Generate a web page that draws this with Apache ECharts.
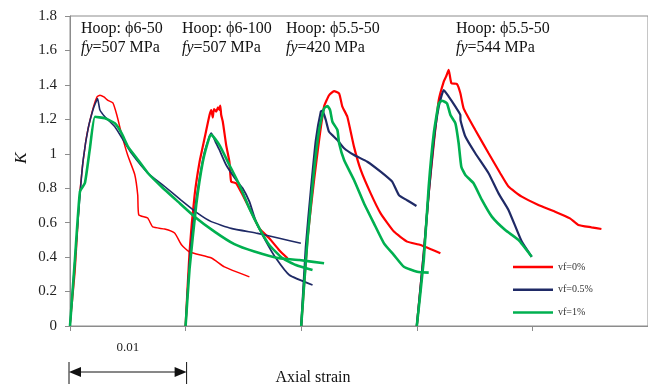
<!DOCTYPE html>
<html>
<head>
<meta charset="utf-8">
<script src="https://cdn.jsdelivr.net/npm/echarts@6/dist/echarts.min.js"></script>
<style>
  html, body { margin: 0; padding: 0; background: #ffffff; }
  #chart { width: 648px; height: 387px; }
</style>
</head>
<body>
<div id="chart"></div>
<script>
// Axial strain of each specimen is plotted from its own origin; groups are shifted by 0.01.
const groupOffsets = [0, 0.01, 0.02, 0.03];
const hoopLabels = ['Hoop: ϕ6-50', 'Hoop: ϕ6-100', 'Hoop: ϕ5.5-50', 'Hoop: ϕ5.5-50'];
const fyValues = ['507', '507', '420', '544'];
const seriesNames = ['vf=0%', 'vf=0.5%', 'vf=1%'];
const scaleBarStrain = 0.01;

// [axial strain from group origin, K]
const vf0_g1 = [[0,0],[0.00043,0.31],[0.00086,0.78],[0.00138,1.08],[0.0019,1.24],[0.00233,1.33],[0.00259,1.34],[0.00293,1.33],[0.00328,1.31],[0.00371,1.295],[0.00405,1.225],[0.00448,1.11],[0.005,0.99],[0.0056,0.88],[0.00586,0.76],[0.00595,0.645],[0.00672,0.627],[0.00716,0.575],[0.00819,0.563],[0.00905,0.54],[0.00966,0.47],[0.01034,0.43],[0.01224,0.395],[0.01336,0.343],[0.01552,0.285]];
const vf05_g1 = [[0,0],[0.00043,0.39],[0.00086,0.76],[0.00115,0.97],[0.00158,1.15],[0.00201,1.26],[0.0023,1.31],[0.00239,1.32],[0.00259,1.254],[0.00302,1.215],[0.00388,1.157],[0.0046,1.08],[0.00532,1.003],[0.00675,0.887],[0.00819,0.81],[0.00963,0.73],[0.01106,0.654],[0.01222,0.606],[0.01394,0.567],[0.01623,0.538],[0.0181,0.51],[0.01997,0.48]];
const vf1_g1 = [[0,0],[0.00043,0.39],[0.00086,0.78],[0.00129,0.83],[0.00172,1.03],[0.00216,1.215],[0.00302,1.206],[0.00388,1.177],[0.00446,1.12],[0.00503,1.04],[0.00589,0.964],[0.00675,0.887],[0.0079,0.81],[0.00934,0.722],[0.01078,0.635],[0.0125,0.548],[0.01422,0.475],[0.01595,0.432],[0.0181,0.393],[0.01983,0.383],[0.02198,0.364]];

const vf0_g2 = [[0,0],[0.00034,0.43],[0.00078,0.76],[0.00121,0.954],[0.00164,1.09],[0.00207,1.225],[0.00222,1.254],[0.00235,1.21],[0.00245,1.26],[0.00265,1.245],[0.0028,1.27],[0.00293,1.255],[0.003,1.28],[0.00308,1.225],[0.00322,1.186],[0.00351,1.05],[0.00379,0.954],[0.00394,0.838],[0.00437,0.829],[0.00494,0.76],[0.00552,0.683],[0.00638,0.567],[0.00724,0.509],[0.0081,0.44],[0.00882,0.393]];
const vf05_g2 = [[0,0],[0.00034,0.373],[0.00078,0.664],[0.00121,0.858],[0.00164,1.01],[0.00207,1.1],[0.00222,1.12],[0.00265,1.06],[0.00293,1.022],[0.00351,0.935],[0.00437,0.848],[0.00494,0.8],[0.00552,0.722],[0.00609,0.606],[0.00696,0.49],[0.00782,0.393],[0.00897,0.296],[0.01098,0.238]];
const vf1_g2 = [[0,0],[0.00034,0.33],[0.00092,0.703],[0.00149,0.954],[0.00207,1.1],[0.00222,1.11],[0.00293,1.05],[0.00379,0.935],[0.00466,0.819],[0.00552,0.683],[0.00638,0.567],[0.00724,0.47],[0.00839,0.393],[0.00954,0.354],[0.01098,0.325]];

const vf0_g3 = [[0,0],[0.00054,0.5],[0.00112,0.85],[0.00155,1.08],[0.00198,1.274],[0.00241,1.34],[0.00284,1.364],[0.00328,1.35],[0.00356,1.274],[0.00399,1.215],[0.00457,1.04],[0.00515,0.906],[0.00601,0.77],[0.00687,0.654],[0.00802,0.548],[0.00916,0.49],[0.01032,0.47],[0.01204,0.422]];
const vf05_g3 = [[0,0],[0.0004,0.46],[0.00084,0.79],[0.00127,1.08],[0.0017,1.245],[0.00184,1.25],[0.00213,1.196],[0.00241,1.128],[0.00313,1.08],[0.00371,1.032],[0.00457,0.993],[0.00572,0.954],[0.00687,0.896],[0.00787,0.838],[0.00845,0.76],[0.00916,0.73],[0.00997,0.697]];
const vf1_g3 = [[0,0],[0.00054,0.5],[0.00112,0.906],[0.00155,1.138],[0.00198,1.264],[0.00227,1.277],[0.0025,1.254],[0.0027,1.186],[0.00313,1.138],[0.00328,1.061],[0.00371,0.964],[0.00457,0.848],[0.00543,0.713],[0.00629,0.596],[0.00716,0.48],[0.00802,0.412],[0.00888,0.344],[0.01003,0.315],[0.01103,0.31]];

const vf0_g4 = [[0,0],[0.0006,0.422],[0.00103,0.77],[0.00147,1.061],[0.0019,1.312],[0.00233,1.419],[0.00253,1.448],[0.00276,1.487],[0.00299,1.41],[0.00347,1.405],[0.00377,1.351],[0.00405,1.264],[0.00506,1.138],[0.00621,1.003],[0.00722,0.887],[0.00793,0.81],[0.00908,0.751],[0.01052,0.703],[0.01196,0.664],[0.01325,0.625],[0.01397,0.587],[0.01511,0.573],[0.01597,0.563]];
const vf05_g4 = [[0,0],[0.0006,0.422],[0.00103,0.77],[0.00147,1.08],[0.0019,1.274],[0.00233,1.37],[0.00276,1.332],[0.00334,1.274],[0.00377,1.225],[0.00378,1.196],[0.0042,1.1],[0.00506,1.003],[0.00621,0.887],[0.00707,0.77],[0.00793,0.674],[0.00908,0.49],[0.00994,0.402]];
const vf1_g4 = [[0,0],[0.0006,0.38],[0.00103,0.81],[0.00147,1.12],[0.0019,1.293],[0.00218,1.308],[0.00261,1.293],[0.00291,1.225],[0.00334,1.177],[0.00362,1.061],[0.00385,0.925],[0.0042,0.877],[0.00491,0.829],[0.00563,0.732],[0.00649,0.635],[0.00765,0.557],[0.00879,0.5],[0.00994,0.402]];

const curves = [
  [vf0_g1, vf0_g2, vf0_g3, vf0_g4],
  [vf05_g1, vf05_g2, vf05_g3, vf05_g4],
  [vf1_g1, vf1_g2, vf1_g3, vf1_g4]
];

const SERIF = '"Liberation Serif", "Times New Roman", "DejaVu Serif", serif';
const colors = ['#ff0000', '#1f2a66', '#00b050'];
const widths = [[1.5, 2.2, 2.2, 2.2], [1.6, 1.8, 2.2, 2.2], [2.6, 2.6, 2.6, 2.6]];

const series = [];
curves.forEach((groupCurves, ci) => {
  groupCurves.forEach((pts, gi) => {
    series.push({
      name: seriesNames[ci],
      type: 'line',
      symbol: 'none',
      showSymbol: false,
      smooth: 0.15,
      z: 2 + ci,
      lineStyle: { color: colors[ci], width: widths[ci][gi] },
      itemStyle: { color: colors[ci] },
      data: pts.map(p => [p[0] + groupOffsets[gi], p[1]])
    });
  });
});

const chart = echarts.init(document.getElementById('chart'), null, { renderer: 'canvas' });
chart.setOption({
  animation: false,
  backgroundColor: '#ffffff',
  grid: {
    left: 70, right: -2, top: 16, bottom: 61,
    show: true, borderColor: '#8c8c8c', borderWidth: 1, containLabel: false
  },
  legend: {
    orient: 'vertical',
    left: 513, top: 260,
    padding: 0,
    icon: 'rect',
    itemWidth: 40, itemHeight: 2.5, itemGap: 8.7,
    data: seriesNames,
    textStyle: { fontFamily: SERIF, fontSize: 10, lineHeight: 14, color: '#333333' }
  },
  xAxis: {
    type: 'value', min: 0, max: 0.05, interval: 0.01,
    axisLine: { show: true, lineStyle: { color: '#8c8c8c', width: 1 } },
    axisTick: { show: true, inside: false, length: 5, lineStyle: { color: '#8c8c8c' } },
    axisLabel: { show: false },
    splitLine: { show: false }
  },
  yAxis: {
    type: 'value', min: 0, max: 1.8, interval: 0.2,
    axisLine: { show: true, lineStyle: { color: '#8c8c8c', width: 1 } },
    axisTick: { show: true, inside: false, length: 5, lineStyle: { color: '#8c8c8c' } },
    axisLabel: { margin: 13, fontFamily: SERIF, fontSize: 15, color: '#222222' },
    splitLine: { show: false }
  },
  series: series
});

// Annotations and the strain scale bar, placed from the axis scale.
const origin = chart.convertToPixel({ xAxisIndex: 0, yAxisIndex: 0 }, [0, 0]);
const barEnd = chart.convertToPixel({ xAxisIndex: 0, yAxisIndex: 0 }, [scaleBarStrain, 0]);
const bx0 = origin[0], bx1 = barEnd[0], by = 372;
const graphics = [];
const textLefts = [81, 182, 286, 456];
hoopLabels.forEach((lbl, i) => {
  graphics.push({
    type: 'text', left: textLefts[i], top: 21,
    style: { text: lbl, fontFamily: SERIF, fontSize: 16, fill: '#111111' }
  });
  graphics.push({
    type: 'text', left: textLefts[i], top: 40,
    style: {
      text: '{i|fy}=' + fyValues[i] + ' MPa',
      fontFamily: SERIF, fontSize: 16, fill: '#111111',
      rich: { i: { fontFamily: SERIF, fontSize: 16, fontStyle: 'italic', fill: '#111111' } }
    }
  });
});
graphics.push({
  type: 'text', x: 22, y: 158, rotation: Math.PI / 2,
  style: { text: 'K', fontFamily: SERIF, fontSize: 17, fontStyle: 'italic', fill: '#111111', align: 'center', verticalAlign: 'middle' }
});
graphics.push({
  type: 'text', x: 313, y: 378,
  style: { text: 'Axial strain', fontFamily: SERIF, fontSize: 16, fill: '#111111', align: 'center', verticalAlign: 'middle' }
});
graphics.push({
  type: 'text', x: (bx0 + bx1) / 2, y: 348,
  style: { text: String(scaleBarStrain), fontFamily: SERIF, fontSize: 13, fill: '#222222', align: 'center', verticalAlign: 'middle' }
});
graphics.push({ type: 'line', shape: { x1: bx0 + 6, y1: by, x2: bx1 - 6, y2: by }, style: { stroke: '#111111', lineWidth: 1 } });
graphics.push({ type: 'line', shape: { x1: bx0 - 1, y1: 362, x2: bx0 - 1, y2: 384 }, style: { stroke: '#111111', lineWidth: 1 } });
graphics.push({ type: 'line', shape: { x1: bx1 + 1, y1: 362, x2: bx1 + 1, y2: 384 }, style: { stroke: '#111111', lineWidth: 1 } });
graphics.push({ type: 'polygon', shape: { points: [[bx0 - 1, by], [bx0 + 11, by - 5], [bx0 + 11, by + 5]] }, style: { fill: '#111111' } });
graphics.push({ type: 'polygon', shape: { points: [[bx1 + 1, by], [bx1 - 11, by - 5], [bx1 - 11, by + 5]] }, style: { fill: '#111111' } });
chart.setOption({ graphic: graphics });
</script>
</body>
</html>
